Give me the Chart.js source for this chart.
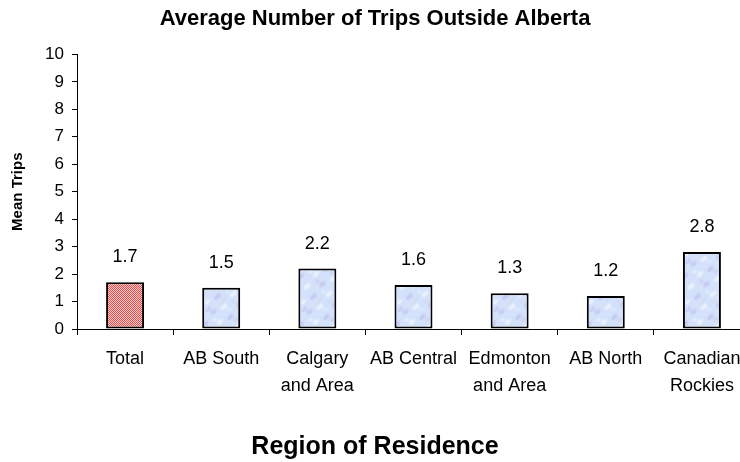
<!DOCTYPE html>
<html>
<head>
<meta charset="utf-8">
<script src="https://cdn.jsdelivr.net/npm/chart.js@4.4.1/dist/chart.umd.min.js"></script>
<style>
  html, body { margin: 0; padding: 0; background: #fff; overflow: hidden; }
  #wrap { width: 760px; height: 462px; }
</style>
</head>
<body>
<div id="wrap"><canvas id="c" width="760" height="462"></canvas></div>
<script>
// Regions of residence (multi-line labels) and mean trips per region
const regions = [
  'Total',
  'AB South',
  ['Calgary', 'and Area'],
  'AB Central',
  ['Edmonton', 'and Area'],
  'AB North',
  ['Canadian', 'Rockies']
];
const meanTrips = [1.7, 1.5, 2.2, 1.6, 1.3, 1.2, 2.8];
const yTicks = [0, 1, 2, 3, 4, 5, 6, 7, 8, 9, 10];

const FONT = "'Liberation Sans', Arial, sans-serif";

// Red/white fine diagonal hatch for the overall total
function hatchPattern() {
  const p = document.createElement('canvas');
  p.width = 2; p.height = 2;
  const g = p.getContext('2d');
  g.fillStyle = '#ffd0d0';
  g.fillRect(0, 0, 2, 2);
  g.fillStyle = '#f24a4a';
  g.fillRect(0, 0, 1, 1);
  g.fillRect(1, 1, 1, 1);
  return g.createPattern(p, 'repeat');
}

// Soft mottled pale-blue fill for the individual regions
function mottlePattern() {
  const p = document.createElement('canvas');
  p.width = 48; p.height = 48;
  const g = p.getContext('2d');
  g.fillStyle = '#d3e1fa';
  g.fillRect(0, 0, 48, 48);
  const k = Math.PI * 2 / 48;
  for (let y = 0; y < 48; y++) {
    for (let x = 0; x < 48; x++) {
      const v = Math.sin(x * k * 2 + y * k) + Math.cos(y * k * 3 - x * k) + 0.6 * Math.sin((x * 5 + y * 4) * k);
      if (v > 0.9) {
        g.fillStyle = 'rgba(196,194,240,' + Math.min(0.7, (v - 0.9) * 0.6).toFixed(2) + ')';
        g.fillRect(x, y, 1, 1);
      } else if (v < -0.9) {
        g.fillStyle = 'rgba(238,244,255,' + Math.min(0.8, (-v - 0.9) * 0.7).toFixed(2) + ')';
        g.fillRect(x, y, 1, 1);
      }
    }
  }
  return g.createPattern(p, 'repeat');
}

const redFill = hatchPattern();
const blueFill = mottlePattern();

// Value printed above each bar
const valueLabels = {
  id: 'valueLabels',
  afterDatasetsDraw(chart) {
    const ctx = chart.ctx;
    const meta = chart.getDatasetMeta(0);
    ctx.save();
    ctx.font = '18px ' + FONT;
    ctx.fillStyle = '#000';
    ctx.textAlign = 'center';
    ctx.textBaseline = 'middle';
    meta.data.forEach((bar, i) => {
      ctx.fillText(meanTrips[i].toFixed(1), bar.x, bar.y - 25);
    });
    ctx.restore();
  }
};

new Chart(document.getElementById('c'), {
  type: 'bar',
  data: {
    labels: regions,
    datasets: [{
      data: meanTrips,
      backgroundColor: meanTrips.map((v, i) => i === 0 ? redFill : blueFill),
      borderColor: '#000',
      borderWidth: 2,
      borderSkipped: false,
      barPercentage: 0.395,
      categoryPercentage: 1
    }]
  },
  options: {
    responsive: false,
    devicePixelRatio: 1,
    animation: false,
    layout: { padding: { left: 0, right: 10, top: 0, bottom: 0 } },
    plugins: {
      legend: { display: false },
      tooltip: { enabled: false },
      title: {
        display: true,
        text: 'Average Number of Trips Outside Alberta',
        color: '#000',
        font: { family: FONT, size: 22, weight: 'bold', lineHeight: 1.2 },
        padding: { top: 6, bottom: 22 }
      },
      subtitle: {
        display: true,
        position: 'bottom',
        text: 'Region of Residence',
        color: '#000',
        font: { family: FONT, size: 25, weight: 'bold', lineHeight: 1.2 },
        padding: { top: 0, bottom: 0 }
      }
    },
    scales: {
      x: {
        offset: true,
        afterFit(scale) { scale.height = 103; },
        grid: { drawOnChartArea: false, offset: true, tickLength: 6, color: '#000' },
        border: { color: '#000', width: 1 },
        ticks: {
          color: '#000',
          font: { family: FONT, size: 18, lineHeight: 1.5 },
          padding: 11,
          maxRotation: 0,
          autoSkip: false
        }
      },
      y: {
        min: 0,
        max: 10,
        afterFit(scale) { scale.width = 77; },
        afterBuildTicks(scale) { scale.ticks = yTicks.map(v => ({ value: v })); },
        grid: { drawOnChartArea: false, tickLength: 5, color: '#000' },
        border: { color: '#000', width: 1 },
        ticks: {
          color: '#000',
          font: { family: FONT, size: 17 },
          padding: 8
        },
        title: {
          display: true,
          text: 'Mean Trips',
          color: '#000',
          font: { family: FONT, size: 15, weight: 'bold', lineHeight: 1.2 },
          padding: { top: 9, bottom: 0 }
        }
      }
    }
  },
  plugins: [valueLabels]
});
</script>
</body>
</html>
